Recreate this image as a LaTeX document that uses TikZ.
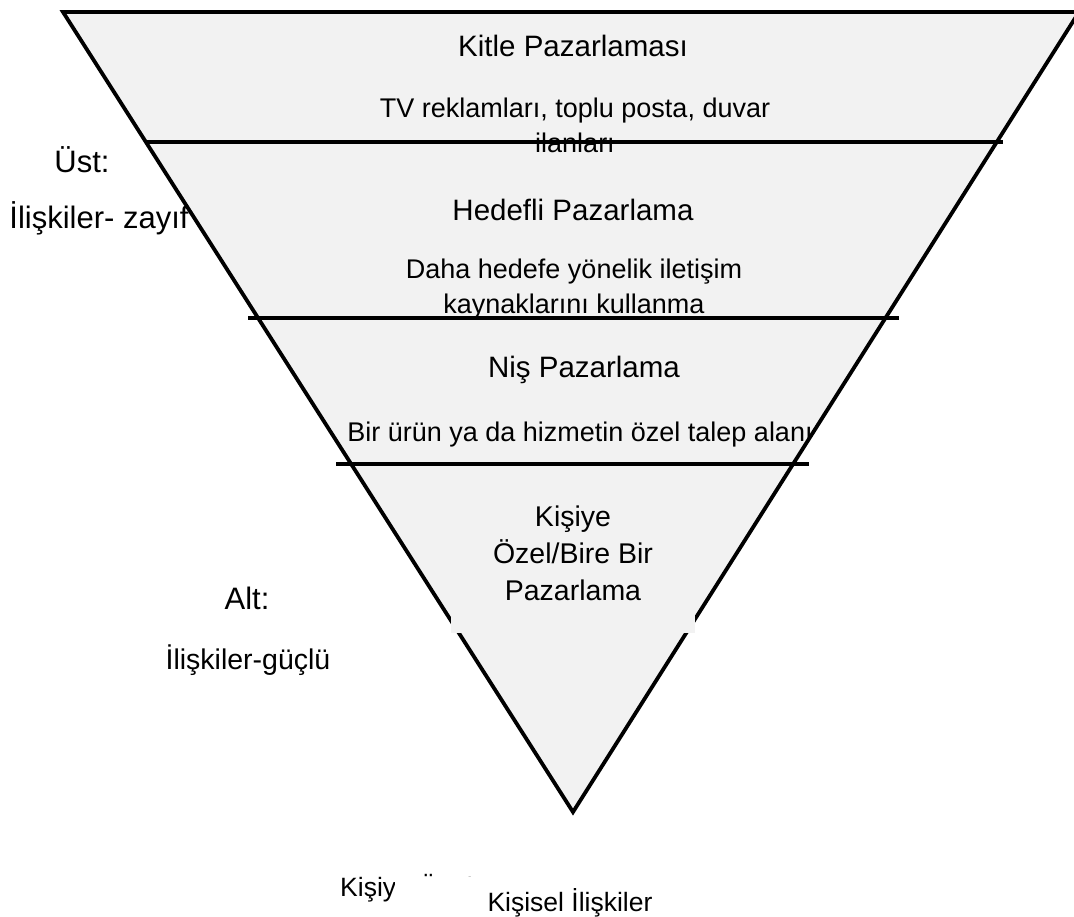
\documentclass[tikz,border=0pt]{standalone}
\usepackage{fontspec}
\setmainfont{Liberation Sans}
\definecolor{tri}{HTML}{F2F2F2}
\tikzset{
  edge/.style={line width=3.8pt, draw=black},
  ttl/.style={font=\fontsize{29.5}{37}\selectfont, align=center, inner sep=0pt},
  ttlb/.style={font=\fontsize{28.5}{37}\selectfont, align=center, inner sep=0pt},
  sub/.style={font=\fontsize{27}{35}\selectfont, align=center, inner sep=0pt},
  lbl/.style={font=\fontsize{31}{36}\selectfont, inner sep=0pt},
  lblm/.style={font=\fontsize{28.5}{34}\selectfont, inner sep=0pt},
  lbls/.style={font=\fontsize{26.5}{32}\selectfont, inner sep=0pt}
}
\begin{document}
\begin{tikzpicture}[x=1pt,y=-1pt]
\useasboundingbox (0,0) rectangle (1074,916);
\clip (0,0) rectangle (1074,916);
\fill[white] (0,0) rectangle (1074,916);
% funnel
\coordinate (tl) at (63,12);
\coordinate (tr) at (1079,12);
\coordinate (ap) at (573,812);
\filldraw[fill=tri, edge, line join=miter] (tl) -- (tr) -- (ap) -- cycle;
% separators
\coordinate (s1a) at (145,142); \coordinate (s1b) at (1003,142);
\coordinate (s2a) at (248,318); \coordinate (s2b) at (899,318);
\coordinate (s3a) at (336,464); \coordinate (s3b) at (809,464);
\draw[edge] (s1a) -- (s1b);
\draw[edge] (s2a) -- (s2b);
\draw[edge] (s3a) -- (s3b);
% text box of bottom segment
\fill[tri] (451,480) rectangle (695,633);
% texts
\node[ttl] (t1) at (573,46) {Kitle Pazarlaması};
\node[sub] (d1) at (575,125) {TV reklamları, toplu posta, duvar\\ilanları};
\node[ttl] (t2) at (573,210) {Hedefli Pazarlama};
\node[sub] (d2) at (574,289) {Daha hedefe yönelik iletişim\\kaynaklarını kullanma};
\node[ttl] (t3) at (584,370) {Niş Pazarlama};
\node[sub] (d3) at (580,435) {Bir ürün ya da hizmetin özel talep alanı};
\node[ttlb] (t4) at (573,553) {Kişiye\\Özel/Bire Bir\\Pazarlama};
% side labels
\node[lbl] (u) at (82,160) {Üst:};
\node[lbl] (uz) at (99,218) {İlişkiler- zayıf};
\node[lbl] (a) at (247,598) {Alt:};
\node[lblm] (ag) at (248,660) {İlişkiler-güçlü};
% bottom labels
\node[lbls, anchor=base west] (k1) at (340,896) {Kişiye Özel};
\fill[white] (395,877) rectangle (760,916);
\node[lbls] (k2) at (570,903) {Kişisel İlişkiler};
\end{tikzpicture}
\end{document}
